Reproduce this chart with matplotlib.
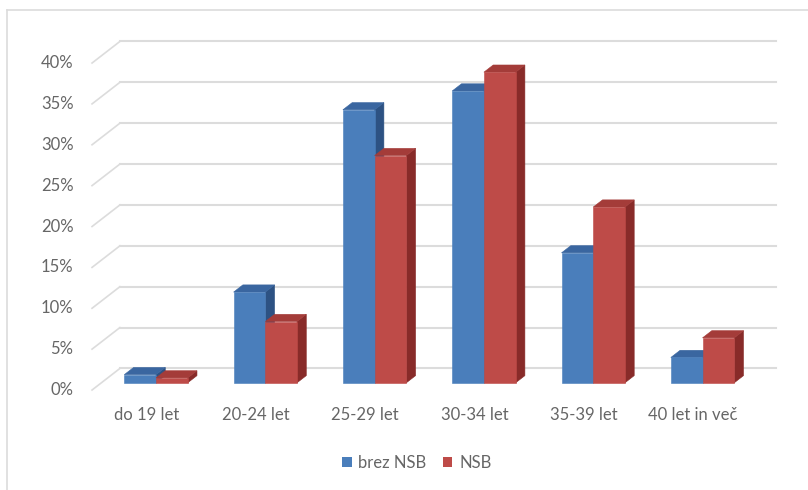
import matplotlib.pyplot as plt
from matplotlib.patches import Polygon, Patch
from matplotlib.lines import Line2D

# age groups and shares (in %)
categories = ["do 19 let", "20-24 let", "25-29 let", "30-34 let", "35-39 let", "40 let in več"]
brez_nsb = [1.0, 11.1, 33.4, 35.7, 15.9, 3.1]
nsb = [0.6, 7.5, 27.8, 38.0, 21.5, 5.5]
series_names = ["brez NSB", "NSB"]
y_ticks = [0, 5, 10, 15, 20, 25, 30, 35, 40]
y_tick_labels = [f"{t}%" for t in y_ticks]

# oblique projection: one depth step in data units
DX = 0.085
DY = 0.88
BAR_W = 0.29
WALL_DEPTH = 3

# face colours: front, top, side
BLUE = ("#4A7EBB", "#3A66A0", "#2D5283")
RED = ("#BE4B48", "#A43C39", "#882B29")
GRID = "#DCDCDC"
TEXT = "#666666"
FS = 12

plt.rcParams["font.family"] = ["Lato", "DejaVu Sans"]


def draw_bar(ax, x0, h, colors):
    front, top, side = colors
    x1 = x0 + BAR_W
    side_pts = [(x1 + DX, DY), (x1 + 2 * DX, 2 * DY), (x1 + 2 * DX, h + 2 * DY), (x1 + DX, h + DY)]
    top_pts = [(x0 + DX, h + DY), (x1 + DX, h + DY), (x1 + 2 * DX, h + 2 * DY), (x0 + 2 * DX, h + 2 * DY)]
    front_pts = [(x0 + DX, DY), (x1 + DX, DY), (x1 + DX, h + DY), (x0 + DX, h + DY)]
    for pts, c in ((side_pts, side), (top_pts, top), (front_pts, front)):
        ax.add_patch(Polygon(pts, closed=True, facecolor=c, edgecolor=c, linewidth=0.4, zorder=3))


fig = plt.figure(figsize=(8.08, 4.9), dpi=100)
ax = fig.add_axes([0, 0, 1, 1])
ax.set_xlim(-1.342, 6.05)
ax.set_ylim(-12.23, 47.71)
ax.axis("off")

# outer chart frame (left and top only)
fig.add_artist(Line2D([7 / 808, 7 / 808], [0, 1 - 10 / 490], transform=fig.transFigure, color=GRID, lw=1.2))
fig.add_artist(Line2D([7 / 808, 1], [1 - 10 / 490, 1 - 10 / 490], transform=fig.transFigure, color=GRID, lw=1.2))

# back wall gridlines with slanted connectors to the value labels
wx0 = -0.5 + WALL_DEPTH * DX
wx1 = len(categories) - 0.5 + WALL_DEPTH * DX
for t, lab in zip(y_ticks, y_tick_labels):
    wy = t + WALL_DEPTH * DY
    ax.plot([wx0, wx1], [wy, wy], color=GRID, lw=1.5, zorder=1)
    ax.plot([-0.5, wx0], [t, wy], color=GRID, lw=1.2, zorder=1)
    ax.text(-0.67, t, lab, ha="right", va="center", fontsize=FS, color=TEXT)

for i, cat in enumerate(categories):
    draw_bar(ax, i - BAR_W, brez_nsb[i], BLUE)
    draw_bar(ax, i, nsb[i], RED)
    ax.text(i, -3.1, cat, ha="center", va="center", fontsize=FS, color=TEXT)

handles = [Patch(facecolor=BLUE[0]), Patch(facecolor=RED[0])]
fig.legend(handles, series_names, loc="center", bbox_to_anchor=(0.516, 0.055), ncol=2,
           frameon=False, fontsize=FS, handlelength=0.55, handleheight=0.55,
           handletextpad=0.4, columnspacing=1.0, labelcolor=TEXT)

fig.savefig("out.png", dpi=100, facecolor="white")
